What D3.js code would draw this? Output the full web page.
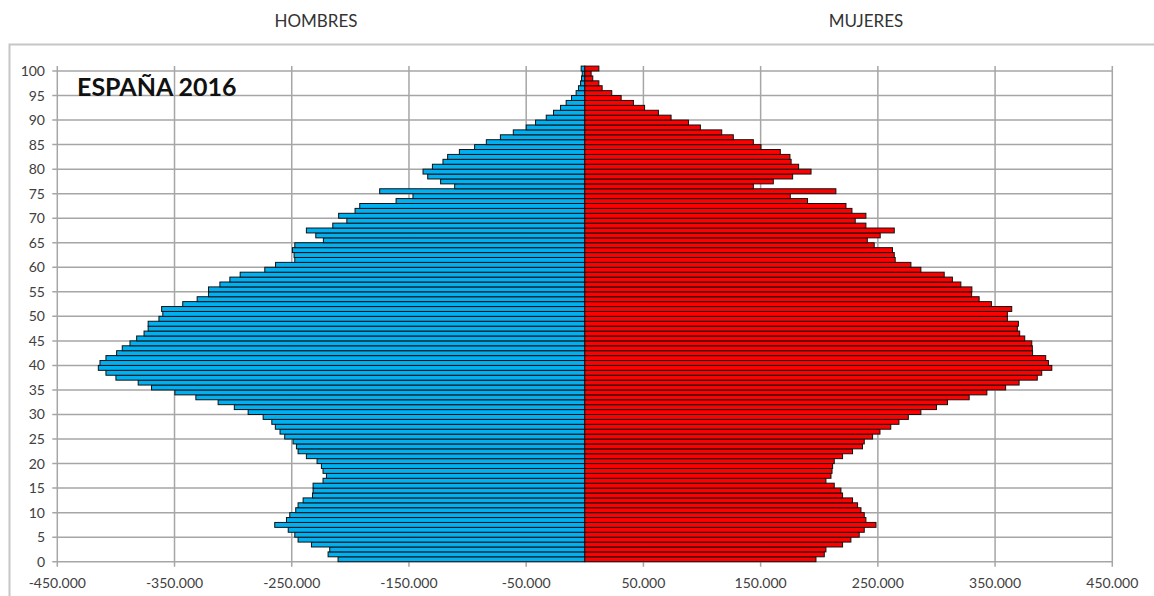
<!DOCTYPE html>
<html>
<head>
<meta charset="utf-8">
<script src="https://cdn.jsdelivr.net/npm/d3@7"></script>
<style>
  body { margin: 0; background: #fff; }
  svg { display: block; font-family: Lato, "Open Sans", sans-serif; }
</style>
</head>
<body>
<svg id="chart" width="1154" height="596"></svg>
<script>
// ages 0..100 (single years)
var ages = d3.range(0, 101);

// hombres, por edad 0..100 (negativos)
var hombres = [
  -210500, -219000, -217600, -233200, -244600, -247400, -253000, -264500, -254500, -251700,
  -246600, -244600, -240300, -232300, -231800, -231800, -223300, -220400, -223300, -224700,
  -228400, -237500, -244600, -246000, -248900, -256000, -260000, -264000, -267000, -274400,
  -287200, -299000, -312800, -331800, -349700, -369600, -381000, -400000, -408500, -415000,
  -413600, -408500, -399400, -394600, -388000, -382300, -376000, -372500, -372500, -363300,
  -360000, -361000, -343000, -330700, -321000, -321000, -311300, -302800, -294000, -273000,
  -263800, -247400, -248000, -249400, -247400, -223000, -229500, -237500, -215000, -203000,
  -210000, -196000, -192000, -161000, -146600, -175000, -111000, -123000, -134000, -138000,
  -130000, -121000, -117000, -107000, -94000, -84000, -72000, -61000, -50000, -42000,
  -32900, -26700, -20700, -15900, -11300, -7400, -5400, -3600, -2800, -2200,
  -3100
];

// mujeres, por edad 0..100
var mujeres = [
  197200, 204300, 205700, 219900, 227000, 234100, 238400, 248400, 239800, 238400,
  235600, 232700, 228400, 219900, 218500, 212800, 205700, 210000, 210900, 211400,
  212800, 219900, 228400, 236900, 238400, 245500, 251800, 261000, 268000, 276000,
  286700, 300000, 309400, 327900, 343000, 359000, 370500, 386000, 389800, 398400,
  395500, 393200, 382000, 381800, 381300, 375300, 371000, 369000, 369900, 360500,
  360500, 364200, 346900, 336400, 330000, 330200, 320800, 313600, 306600, 286700,
  278200, 264800, 264000, 262500, 246900, 241000, 252000, 264000, 239800, 230700,
  239800, 227900, 222800, 190000, 175300, 214200, 143800, 160800, 177300, 193000,
  182400, 176000, 175000, 166800, 150300, 143800, 126700, 116800, 98600, 88400,
  73600, 62800, 51000, 41500, 31000, 23000, 14800, 12000, 6800, 5400,
  12000
];

var xTicks = d3.range(-450000, 450001, 100000);
var yTicks = d3.range(0, 101, 5);
var headers = ["HOMBRES", "MUJERES"];
var title = "ESPAÑA 2016";

var svg = d3.select("#chart");

// spanish number format: -450.000
var es = d3.formatLocale({ decimal: ",", thousands: ".", grouping: [3], currency: ["", " €"], minus: "-" });
var fmt = es.format(",d");

var x = d3.scaleLinear().domain([-450000, 450000]).range([57.3, 1112.3]);
var y = d3.scaleLinear().domain([0, 101]).range([561.7, 66.1]);

// chart frame
svg.append("rect")
  .attr("x", 9.5).attr("y", 44.5)
  .attr("width", 1160).attr("height", 600)
  .attr("fill", "none").attr("stroke", "#c6c6c6").attr("stroke-width", 2);

// headers
svg.selectAll("text.header")
  .data(headers)
  .enter().append("text")
  .attr("class", "header")
  .attr("x", function(d, i) { return i === 0 ? 316 : 866; })
  .attr("y", 27)
  .attr("text-anchor", "middle")
  .attr("font-size", 17)
  .attr("fill", "#333")
  .text(function(d) { return d; });

// gridlines
var grid = svg.append("g").attr("stroke", "#a6a6a6").attr("stroke-width", 1.5);

grid.selectAll("line.v")
  .data(xTicks)
  .enter().append("line")
  .attr("class", "v")
  .attr("x1", function(d) { return x(d); })
  .attr("x2", function(d) { return x(d); })
  .attr("y1", y(101))
  .attr("y2", y(0) + 5);

grid.selectAll("line.h")
  .data(yTicks)
  .enter().append("line")
  .attr("class", "h")
  .attr("x1", x(-450000) - 5)
  .attr("x2", x(450000))
  .attr("y1", function(d) { return y(d); })
  .attr("y2", function(d) { return y(d); });

// bars
function drawBars(values, cls, color) {
  svg.append("g")
    .selectAll("rect")
    .data(values)
    .enter().append("rect")
    .attr("class", cls)
    .attr("x", function(d) { return x(Math.min(0, d)); })
    .attr("width", function(d) { return Math.abs(x(d) - x(0)); })
    .attr("y", function(d, i) { return y(ages[i] + 1); })
    .attr("height", function(d, i) { return y(ages[i]) - y(ages[i] + 1); })
    .attr("fill", color)
    .attr("stroke", "#111")
    .attr("stroke-width", 1);
}
drawBars(hombres, "h", "#00b0f0");
drawBars(mujeres, "m", "#ff0000");

// y axis labels
svg.append("g")
  .selectAll("text")
  .data(yTicks)
  .enter().append("text")
  .attr("x", 45)
  .attr("y", function(d) { return y(d) + 5; })
  .attr("text-anchor", "end")
  .attr("font-size", 14)
  .attr("fill", "#404040")
  .text(function(d) { return d; });

// x axis labels
svg.append("g")
  .selectAll("text")
  .data(xTicks)
  .enter().append("text")
  .attr("x", function(d) { return x(d); })
  .attr("y", 588)
  .attr("text-anchor", "middle")
  .attr("font-size", 14)
  .attr("fill", "#404040")
  .text(function(d) { return fmt(d); });

// title inside plot
svg.append("text")
  .attr("x", 77)
  .attr("y", 96)
  .attr("font-size", 25)
  .attr("font-weight", "bold")
  .attr("fill", "#111")
  .text(title);
</script>
</body>
</html>
